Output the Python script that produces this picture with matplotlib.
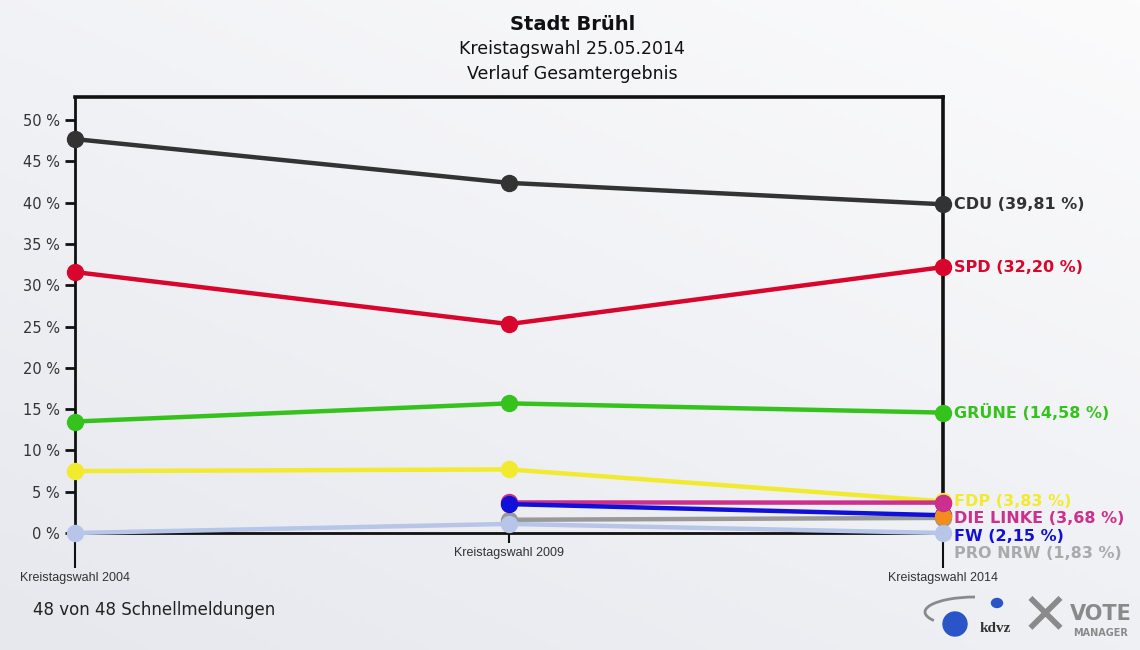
import numpy as np
import matplotlib
matplotlib.use("Agg")
import matplotlib.pyplot as plt
from matplotlib.patches import Ellipse, Arc

plt.rcParams["font.family"] = ["DejaVu Sans"]

elections = ["Kreistagswahl 2004", "Kreistagswahl 2009", "Kreistagswahl 2014"]

cdu = [47.7, 42.4, 39.81]
spd = [31.6, 25.3, 32.20]
gruene = [13.5, 15.7, 14.58]
fdp = [7.5, 7.7, 3.83]
linke = [None, 3.7, 3.68]
fw = [None, 3.5, 2.15]
pro_nrw = [None, 1.6, 1.83]
other_blue = [0.0, 1.1, 0.0]
orange = [None, None, 2.1]

labels = ["CDU (39,81 %)", "SPD (32,20 %)", "GRÜNE (14,58 %)", "FDP (3,83 %)",
          "DIE LINKE (3,68 %)", "FW (2,15 %)", "PRO NRW (1,83 %)"]
label_values = [39.81, 32.20, 14.58, 3.83, 3.68, 2.15, 1.83]
label_colors = ["#333333", "#d8062c", "#36c21c", "#f2ea2e", "#cc2f8c", "#1010d8", "#aaaaaa"]

# draw order: background series first
series = [
    (pro_nrw, "#999999"),
    (other_blue, "#b6c5e8"),
    (fdp, "#f2ea2e"),
    (linke, "#cc2f8c"),
    (fw, "#1010d8"),
    (orange, "#f28c1c"),
    (gruene, "#36c21c"),
    (spd, "#d8062c"),
    (cdu, "#333333"),
]

fig = plt.figure(figsize=(11.4, 6.5), dpi=100)

# soft gradient background
bg = fig.add_axes([0, 0, 1, 1], zorder=-10)
gx = np.linspace(0, 1, 200)
gy = np.linspace(0, 1, 120)
X, Y = np.meshgrid(gx, gy)
grad = 0.6 * X + 0.8 * (1 - Y)
bg.imshow(grad, cmap=matplotlib.colors.LinearSegmentedColormap.from_list(
    "bg", ["#e6e8ee", "#fbfbfc"]), aspect="auto", extent=[0, 1, 0, 1])
bg.axis("off")

ax = fig.add_axes([75 / 1140, 1 - 533 / 650, 868 / 1140, 436 / 650])
ax.patch.set_alpha(0)

x = np.arange(len(elections))
for vals, color in series:
    xs = [xi for xi, v in zip(x, vals) if v is not None]
    ys = [v for v in vals if v is not None]
    ax.plot(xs, ys, color=color, lw=3.2, marker="o", ms=11.5,
            solid_capstyle="round", clip_on=False, zorder=3)
# 2014 Linke marker sits on top of the orange one
ax.plot([2], [linke[2]], color="#cc2f8c", marker="o", ms=11.5, clip_on=False, zorder=4)

ax.set_xlim(0, 2)
ax.set_ylim(0, 52.8)

for side in ["left", "right", "top", "bottom"]:
    ax.spines[side].set_color("#111111")
ax.spines["left"].set_linewidth(2)
ax.spines["bottom"].set_linewidth(2)
ax.spines["right"].set_linewidth(2.6)
ax.spines["top"].set_linewidth(2.6)

ax.set_yticks(np.arange(0, 51, 5))
ax.set_yticklabels([f"{v} %" for v in range(0, 51, 5)])
ax.tick_params(axis="y", length=7, width=2, color="#111111", labelsize=10.5,
               labelcolor="#333333", pad=4)

tick_font = ["Liberation Sans", "DejaVu Sans"]
ax.set_xticks([0, 2])
ax.set_xticklabels([elections[0], elections[2]], family=tick_font)
ax.set_xticks([1], minor=True)
ax.set_xticklabels([elections[1]], minor=True, family=tick_font)
ax.tick_params(axis="x", which="major", length=25, width=1.5, color="#111111",
               labelsize=9, labelcolor="#333333", pad=3)
ax.tick_params(axis="x", which="minor", length=7, width=1.5, color="#111111",
               labelsize=9, labelcolor="#333333", pad=3)

# right-side labels, stacked so they do not overlap
px_per_pct = 436 / 52.8
min_gap = 17.5 / px_per_pct
prev = None
for text, val, col in zip(labels, label_values, label_colors):
    ypos = val if prev is None else min(val, prev - min_gap)
    prev = ypos
    ax.text(2.025, ypos, text, color=col, fontsize=11.5, fontweight="bold",
            va="center", ha="left", clip_on=False)

fig.text(0.502, 1 - 25 / 650, "Stadt Brühl", ha="center", va="center",
         fontsize=14, fontweight="bold", color="#111111")
fig.text(0.502, 1 - 49 / 650, "Kreistagswahl 25.05.2014", ha="center", va="center",
         fontsize=12.5, color="#111111")
fig.text(0.502, 1 - 74 / 650, "Verlauf Gesamtergebnis", ha="center", va="center",
         fontsize=12.5, color="#111111")

fig.text(33 / 1140, 1 - 610 / 650, "48 von 48 Schnellmeldungen", ha="left",
         va="center", fontsize=12, color="#222222")

# logos (rough approximation)
fig.patches.append(Arc((975 / 1140, 1 - 612 / 650), 100 / 1140, 30 / 650, theta1=90, theta2=200,
                       transform=fig.transFigure, color="#8a8a8a", lw=2))
fig.patches.append(Ellipse((955 / 1140, 1 - 624 / 650), 24 / 1140, 24 / 650,
                           transform=fig.transFigure, color="#2a55c8"))
fig.patches.append(Ellipse((997 / 1140, 1 - 603 / 650), 11 / 1140, 9 / 650,
                           transform=fig.transFigure, color="#2a55c8"))
fig.text(995 / 1140, 1 - 629 / 650, "kdvz", ha="center", va="center", fontsize=11,
         fontweight="bold", color="#333333", family=["Liberation Serif", "DejaVu Serif"])
fig.text(1045 / 1140, 1 - 617 / 650, "✕", ha="center", va="center", fontsize=42,
         fontweight="bold", color="#8a8a8a")
fig.text(1101 / 1140, 1 - 614 / 650, "VOTE", ha="center", va="center", fontsize=15,
         fontweight="bold", color="#8a8a8a")
fig.text(1101 / 1140, 1 - 633 / 650, "MANAGER", ha="center", va="center", fontsize=7,
         fontweight="bold", color="#8a8a8a")

fig.savefig("out.png", dpi=100)
